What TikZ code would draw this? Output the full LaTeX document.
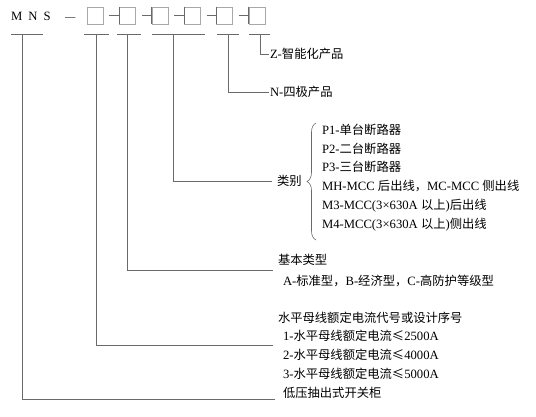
\documentclass[tikz,border=0pt]{standalone}
\usepackage{fontspec}
\setmainfont{Liberation Serif}[Scale=1.03]
\newfontfamily\cjk{Noto Sans CJK SC}
\newcommand\zh[1]{{\cjk #1}}
\usetikzlibrary{decorations.pathreplacing}

\definecolor{lineclr}{HTML}{6A6A6A}
\definecolor{boxclr}{HTML}{A8A8A8}

\tikzset{
    codebox/.style={draw=boxclr, line width=0.6pt, minimum width=16pt, minimum height=17pt, inner sep=0},
    conn/.style={draw=lineclr, line width=0.7pt},
    lab/.style={anchor=west, inner sep=0, outer xsep=5pt, align=left, font=\fontsize{12.3}{18.7}\selectfont}
}

\begin{document}
\begin{tikzpicture}[x=1pt, y=-1pt]
    \useasboundingbox (0,0) rectangle (536,416);

    % Model code
    \node[anchor=base west, inner sep=0, font=\fontsize{12.3}{14}\selectfont] (mns) at (11,20) {M\hspace{6pt}N\hspace{6pt}S};
    \node[anchor=base west, inner sep=0, font=\fontsize{10}{12}\selectfont] (dash) at (65,20) {—};
    \foreach \i in {1,...,6} {
        \node[codebox] (b\i) at ({95+32.4*(\i-1)},15.5) {};
    }
    \foreach \i [count=\j from 2] in {1,...,5} {
        \draw[conn] ([xshift=6pt]b\i.east) -- (b\j.west);
        \draw[conn] (b\j.north west) -- (b\j.south west);
    }

    % Underlines
    \draw[conn] (11,34) -- (43,34);
    \draw[conn] (84,34) -- (109,34);
    \draw[conn] (117,34) -- (141,34);
    \draw[conn] (152,34) -- (205,34);
    \draw[conn] (217,34) -- (239,34);
    \draw[conn] (249,34) -- (270,34);
    \coordinate (u0) at (22,34);
    \coordinate (u1) at (96,34);
    \coordinate (u2) at (127,34);
    \coordinate (u3) at (173,34);
    \coordinate (u4) at (228,34);
    \coordinate (u5) at (260,34);

    % Labels
    \node[lab, outer xsep=1pt] (lz) at (269,54) {Z-\zh{智能化产品}};
    \node[lab, outer xsep=1pt] (ln) at (269,92) {N-\zh{四极产品}};
    \node[lab] (lcat) at (272,181) {\zh{类别}};
    \node[lab, outer xsep=0] (litems) at (322,177.5) {P1-\zh{单台断路器}\\
        P2-\zh{二台断路器}\\
        P3-\zh{三台断路器}\\
        MH-MCC \zh{后出线，}MC-MCC \zh{侧出线}\\
        M3-MCC(3×630A \zh{以上})\zh{后出线}\\
        M4-MCC(3×630A \zh{以上})\zh{侧出线}};
    \node[lab] (lbase) at (273,270.5) {\zh{基本类型}\\[2pt]
        \hspace*{5pt}A-\zh{标准型，}B-\zh{经济型，}C-\zh{高防护等级型}};
    \node[lab] (lbus) at (273,345.5) {\zh{水平母线额定电流代号或设计序号}\\
        \hspace*{5pt}1-\zh{水平母线额定电流≤}2500A\\
        \hspace*{5pt}2-\zh{水平母线额定电流≤}4000A\\
        \hspace*{5pt}3-\zh{水平母线额定电流≤}5000A};
    \node[lab, outer xsep=8pt] (lmns) at (275,393) {\zh{低压抽出式开关柜}};

    % Brace
    \draw[conn, line width=0.6pt, decorate, decoration={brace, amplitude=9pt}] (316,240) -- (316,123);

    % Connectors
    \draw[conn] (u5) |- (lz.west);
    \draw[conn] (u4) |- (ln.west);
    \draw[conn] (u3) |- (lcat.west);
    \draw[conn] (u2) |- (lbase.west);
    \draw[conn] (u1) |- (lbus.west);
    \draw[conn] (u0) |- (lmns.south west);
\end{tikzpicture}
\end{document}
